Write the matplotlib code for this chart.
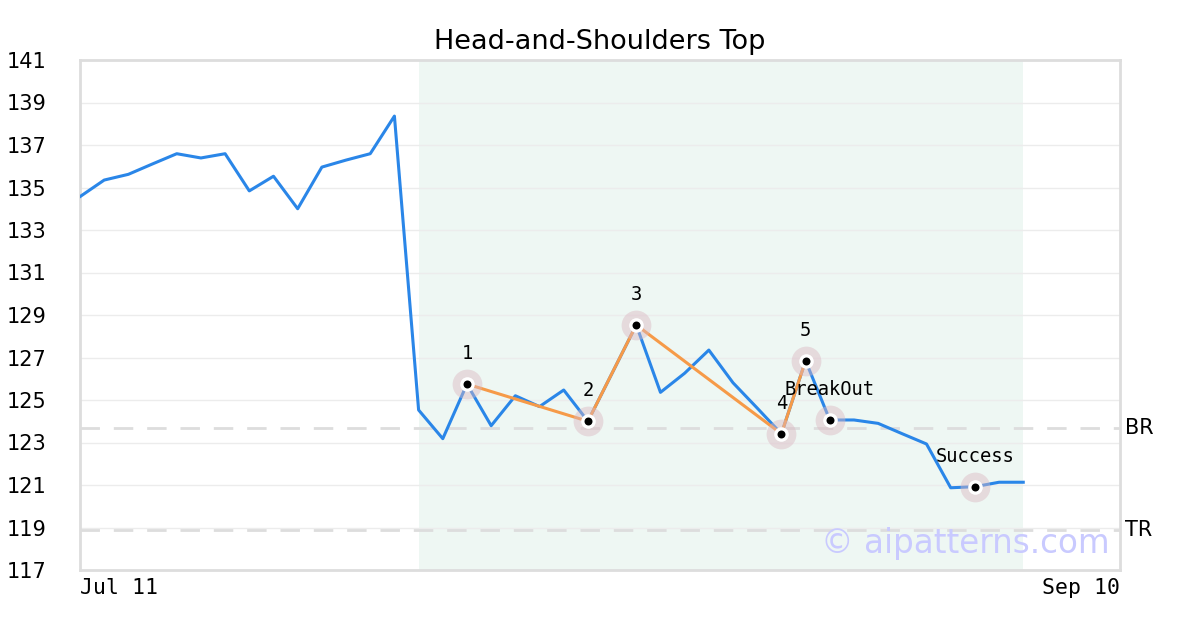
import numpy as np
import matplotlib
matplotlib.use("Agg")
import matplotlib.pyplot as plt

# closing prices, one per trading day
prices = [134.57, 135.35, 135.62, 136.11, 136.59, 136.39, 136.59, 134.84, 135.53, 134.00,
          135.96, 136.29, 136.59, 138.36, 124.53, 123.18, 125.75, 123.79, 125.20, 124.69,
          125.47, 124.00, 126.26, 128.53, 125.36, 126.26, 127.35, 125.81, 124.62, 123.41,
          126.85, 124.06, 124.06, 123.90, 123.41, 122.93, 120.87, 120.92, 121.13, 121.13]
n_slots = 43
tick_pos = [0, 43]
tick_labels = ["Jul 11", "Sep 10"]

pattern_start = 14
pattern_end = 39

# pattern points: label -> day index
point_labels = ["1", "2", "3", "4", "5", "BreakOut", "Success"]
point_idx = [16, 21, 23, 29, 30, 31, 37]
pattern_line = [16, 21, 23, 29, 30]

br_level = 123.68
tr_level = 118.88

x = np.arange(len(prices))
y = np.array(prices)

fig = plt.figure(figsize=(12, 6.3), dpi=100)
ax = fig.add_axes([80 / 1200, 60 / 630, 1040 / 1200, 510 / 630])

ax.axvspan(pattern_start, pattern_end, color="#eef7f3", zorder=0, lw=0)

yt = np.arange(117, 142, 2)
for v in yt:
    ax.axhline(v, color="#ececec", lw=1, zorder=1)

ax.axhline(br_level, color="#dddddd", lw=2, dashes=(7, 5), zorder=1)
ax.axhline(tr_level, color="#dddddd", lw=2, dashes=(7, 5), zorder=1)

ax.plot(x, y, color="#2a86e8", lw=2.2, zorder=3)
ax.plot(x[pattern_line], y[pattern_line], color="#f69a48", lw=2.2, zorder=4)

px = x[point_idx]
py = y[point_idx]
ax.scatter(px, py, s=460, color=(0.86, 0.72, 0.76), alpha=0.45, lw=0, zorder=5)
ax.scatter(px, py, s=110, color="white", lw=0, zorder=6)
ax.scatter(px, py, s=33, color="black", lw=0, zorder=7)

for lab, xi, yi in zip(point_labels, px, py):
    ax.annotate(lab, (xi, yi), xytext=(0, 22), textcoords="offset points",
                ha="center", va="center", fontsize=13.5, family="DejaVu Sans Mono",
                zorder=8)

ax.text(1.0045, br_level, "BR", transform=ax.get_yaxis_transform(),
        ha="left", va="center", fontsize=15)
ax.text(1.0045, tr_level, "TR", transform=ax.get_yaxis_transform(),
        ha="left", va="center", fontsize=15)

ax.text(0.99, 0.052, "© aipatterns.com", transform=ax.transAxes, ha="right",
        va="center", fontsize=23.5, color="#c9caff", zorder=2)

ax.set_xlim(0, n_slots)
ax.set_ylim(117, 141)
ax.set_yticks(yt)
ax.set_yticklabels([str(v) for v in yt], fontsize=15)
ax.set_xticks(tick_pos)
ax.set_xticklabels(tick_labels, fontsize=15.5, family="DejaVu Sans Mono")
xl = ax.get_xticklabels()
xl[0].set_ha("left")
xl[1].set_ha("right")
ax.tick_params(length=0, pad=6)
ax.tick_params(axis="y", pad=53)
for lab in ax.get_yticklabels():
    lab.set_ha("left")

for s in ax.spines.values():
    s.set_color("#dddddd")
    s.set_linewidth(2)

ax.set_title("Head-and-Shoulders Top", fontsize=19.5, pad=8)

fig.savefig("out.png", dpi=100)
